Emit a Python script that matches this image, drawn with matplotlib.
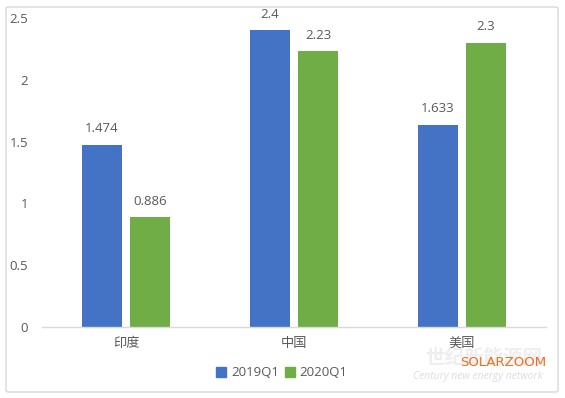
import matplotlib
matplotlib.use("Agg")
import matplotlib.pyplot as plt
import numpy as np
from matplotlib.patches import FancyBboxPatch, Rectangle

plt.rcParams['font.family'] = ['Open Sans', 'Noto Sans CJK SC', 'DejaVu Sans']

categories = ['印度', '中国', '美国']
series_names = ['2019Q1', '2020Q1']
values_2019 = [1.474, 2.4, 1.633]
values_2020 = [0.886, 2.23, 2.3]
labels_2019 = ['1.474', '2.4', '1.633']
labels_2020 = ['0.886', '2.23', '2.3']
yticks = [0, 0.5, 1, 1.5, 2, 2.5]
ytick_labels = ['0', '0.5', '1', '1.5', '2', '2.5']

blue = '#4472C4'
green = '#70AD47'
gray = '#595959'

W, H = 565, 398
fig = plt.figure(figsize=(W / 100, H / 100), dpi=100)

# outer border
fig.patches.append(FancyBboxPatch((6 / W, 6 / H), 552 / W, 385 / H,
                                  boxstyle="round,pad=0,rounding_size=0.004",
                                  transform=fig.transFigure, fill=False,
                                  edgecolor='#D9D9D9', linewidth=1.0))

# watermark (behind everything)
fig.text(484 / W, 1 - 359 / H, '世纪新能源网', fontsize=14, color='#EEEEEE',
         ha='center', va='center', style='italic', fontweight='bold', zorder=0)
fig.text(478 / W, 1 - 377 / H, 'Century new energy network', fontsize=7.5, color='#DDDDDD',
         ha='center', va='center', style='italic', zorder=0)

ax = fig.add_axes([42 / W, 1 - 327 / H, 504 / W, 309 / H])
ax.patch.set_alpha(0)
x = np.arange(len(categories))
bw = 40 / 168
off = 24 / 168
b1 = ax.bar(x - off, values_2019, bw, color=blue, label=series_names[0])
b2 = ax.bar(x + off, values_2020, bw, color=green, label=series_names[1])

for rects, labs in ((b1, labels_2019), (b2, labels_2020)):
    for r, lab in zip(rects, labs):
        ax.annotate(lab, (r.get_x() + r.get_width() / 2, r.get_height()),
                    xytext=(0, 7), textcoords='offset points', ha='center',
                    va='bottom', fontsize=9.5, color=gray)

ax.set_xlim(-0.5, 2.5)
ax.set_ylim(0, 2.5)
ax.set_yticks(yticks)
ax.set_yticklabels(ytick_labels)
ax.set_xticks(x)
ax.set_xticklabels(categories)
ax.tick_params(axis='both', length=0, labelsize=9.5, labelcolor=gray)
ax.tick_params(axis='y', pad=10)
ax.tick_params(axis='x', pad=7)
for s in ['top', 'right', 'left']:
    ax.spines[s].set_visible(False)
ax.spines['bottom'].set_color('#D9D9D9')
ax.spines['bottom'].set_linewidth(1.0)

leg = fig.legend(handles=[Rectangle((0, 0), 1, 1, color=blue), Rectangle((0, 0), 1, 1, color=green)],
                 labels=series_names, loc='center', bbox_to_anchor=(282 / W, 1 - 373 / H),
                 ncol=2, frameon=False, fontsize=9.5, handlelength=0.7, handleheight=0.7,
                 handletextpad=0.4, columnspacing=0.5)
for t in leg.get_texts():
    t.set_color(gray)

fig.text(503 / W, 1 - 363 / H, 'SOLARZOOM', fontsize=9.5, color='#F26B1D',
         ha='center', va='center', family=['DejaVu Sans'])

fig.savefig('out.png', dpi=100)
